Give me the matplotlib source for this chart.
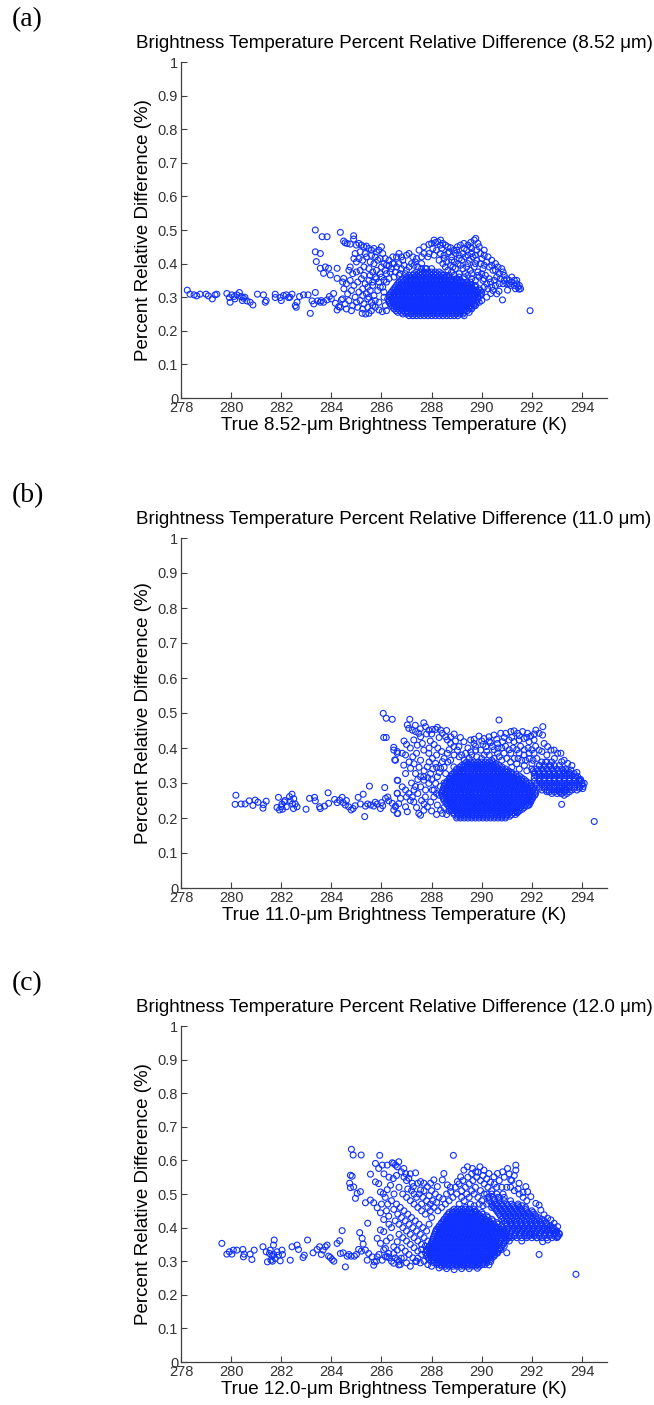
import matplotlib
matplotlib.use('Agg')
from matplotlib import pyplot as plt

# ---------------- panel (a): 8.52 um ----------------
tail_a = [(278.25,.321),(278.36,.309),(278.52,.307),(278.63,.304),(278.76,.309),(279.0,.309),(279.09,.304),
          (279.25,.295),(279.36,.307),(279.43,.309),(279.83,.311),(279.93,.299),(280.03,.307),(279.96,.285),
          (280.12,.302),(280.23,.307),(280.33,.314),(280.4,.302),(280.49,.297),(280.63,.289),(280.76,.285),
          (280.87,.277),(281.05,.309),(281.29,.307),(281.36,.285),(281.76,.309),(281.76,.299),(281.96,.299),
          (282.09,.305),(282.2,.307),(282.29,.299),(282.43,.309),(282.56,.275),(282.63,.285),(282.73,.302),
          (282.89,.307),(283.07,.307),(283.16,.252),(283.23,.289),(283.36,.314),(283.45,.289),(283.56,.285),
          (283.69,.285),(283.83,.292),(283.92,.302),(284.09,.311),(284.16,.282),(284.23,.262),(284.29,.272),
          (284.4,.292),(280.15,.295),(280.55,.30),(282.0,.29),(282.6,.27),(283.3,.28),(283.6,.29),(284.0,.295),
          (280.45,.29),(281.4,.29),(282.35,.30)]

upper_a = [(283.36,.50),(283.63,.48),(283.83,.48),(284.36,.493),(284.49,.467),(284.63,.46),(284.89,.483),
           (284.89,.473),(283.36,.435),(283.56,.43),(283.4,.406),(283.56,.386),(283.76,.39),(283.89,.386),
           (283.69,.371),(283.96,.366),(284.23,.386),(284.23,.356),(284.49,.356),
           (284.55,.462),(284.75,.458),(285.0,.455),(285.1,.46),(285.2,.455),(285.3,.45),(285.4,.452),(285.5,.445),
           (285.6,.44),(285.7,.445),(285.8,.435),(285.9,.44),(286.0,.45),(286.05,.43),(286.15,.415),(286.3,.41),
           (286.45,.40),(286.6,.42),(286.7,.43),(286.85,.41),(287.0,.425),(287.1,.43),(287.25,.42),(287.35,.405),
           (284.9,.415),(285.0,.405),(285.1,.415),(285.25,.41),(285.4,.42),(285.55,.405),(285.7,.40),(285.85,.41),
           (284.75,.39),(284.7,.38),(284.85,.37),(285.0,.375),(285.15,.38),(285.3,.39),(285.5,.385),(285.65,.375),
           (285.8,.38),(286.0,.39),(286.2,.395),(286.4,.385),(286.6,.39),(286.8,.385),(287.0,.38),
           (284.45,.345),(284.6,.34),(284.75,.35),(284.9,.335),(285.05,.345),(285.2,.355),(285.35,.34),(285.5,.35),
           (285.65,.345),(285.8,.355),(286.0,.36),(286.2,.37),(284.5,.325),(284.65,.31),(284.8,.32),(284.95,.30),
           (285.1,.315),(285.25,.325),(285.4,.31),(285.55,.32),(285.7,.305),(285.85,.32),(286.05,.33),(286.2,.345),
           (284.45,.295),(284.55,.28),(284.7,.29),(284.85,.275),(285.0,.285),(285.15,.29),(285.3,.28),(285.45,.295),
           (285.6,.285),(285.75,.27),(285.9,.285),(286.1,.30),(286.15,.275),(285.23,.252),(285.37,.25),(285.5,.252),
           (285.6,.26),(286.03,.257),(285.9,.262),(286.2,.26),(284.35,.27),(284.6,.265),(284.8,.26),
           (285.9,.345),(286.1,.35),(286.3,.355),(286.5,.36),(286.7,.365),(285.95,.37),(286.15,.38),(286.35,.375),
           (286.55,.375),(286.75,.37),(286.95,.37),(286.3,.395),(286.5,.40),(286.7,.40),(286.9,.395),(287.1,.39),
           (286.45,.42),(286.8,.42),(287.2,.40),(285.75,.42),(285.95,.415),(286.1,.40),(285.35,.43),(285.6,.425),
           (285.15,.435),(284.95,.43),(285.3,.365),(285.55,.365),(285.75,.36),(285.45,.33),(285.65,.335),(285.95,.33),
           (286.1,.315),(285.25,.305),(285.5,.30),(285.75,.29),(285.05,.27),(285.25,.265),(285.45,.27),(285.65,.275)]

right_a = [(287.5,.44),(287.69,.45),(287.89,.457),(288.0,.46),(288.16,.463),(288.25,.465),(288.36,.47),(288.45,.46),
           (288.55,.455),(288.65,.45),(288.76,.447),(288.9,.44),(289.03,.45),(289.15,.455),(289.29,.46),(289.45,.455),
           (289.56,.463),(289.7,.47),(289.76,.475),(287.7,.43),(287.85,.42),(288.05,.445),(288.2,.44),(288.35,.43),
           (288.5,.425),(288.65,.43),(288.8,.42),(288.95,.43),(289.1,.425),(289.25,.43),(289.4,.44),(289.6,.445),
           (289.8,.44),(289.95,.43),(290.1,.425),(290.25,.42),(290.4,.41),(290.55,.40),(290.65,.39),(290.8,.385),
           (290.85,.375),(287.3,.395),(287.45,.39),(287.6,.40),(287.75,.385),(288.3,.41),(288.45,.40),(288.6,.405),
           (288.75,.395),(288.9,.405),(289.05,.40),(289.2,.41),(289.35,.42),(289.5,.41),(289.65,.42),(289.8,.41),
           (289.95,.40),(290.1,.395),(290.3,.39),(290.45,.38),(288.65,.38),(288.8,.375),(288.95,.385),(289.1,.37),
           (289.25,.385),(289.4,.39),(289.55,.38),(289.7,.39),(289.85,.375),(290.0,.37),(290.15,.365),(290.3,.355),
           (289.0,.355),(289.15,.35),(289.3,.36),(289.45,.365),(289.6,.355),(289.75,.35),(289.9,.36),(290.05,.35),
           (290.2,.34),(290.35,.345),(290.5,.35),(290.6,.36),(290.75,.355),(290.9,.35),(291.0,.355),(291.1,.35),
           (291.2,.345),(291.3,.35),(291.4,.34),(291.5,.335),(291.55,.325),(291.45,.33),(291.3,.335),(291.15,.335),
           (291.0,.34),(290.85,.34),(290.7,.34),(290.55,.335),(290.4,.33),(290.25,.325),(290.1,.33),(290.36,.311),
           (290.69,.318),(291.03,.321),(291.49,.324),(290.83,.292),(291.93,.26),(289.6,.265),(289.75,.275),
           (289.5,.255),(289.3,.245),(289.9,.285),
           (288.7,.365),(288.9,.365),(289.1,.36),(289.35,.37),(289.6,.37),(289.85,.365),(290.1,.355),(288.55,.39),
           (288.85,.39),(289.15,.395),(289.45,.40),(289.75,.40),(290.05,.385),(290.2,.405),(287.4,.415),(287.6,.42),
           (287.9,.43),(288.1,.425),(288.4,.445),(288.7,.435),(289.0,.44),(289.3,.445),(289.6,.43),(289.9,.45),
           (290.1,.44),(288.5,.415),(288.8,.41),(289.1,.415),(289.45,.425),(289.75,.425),(290.0,.415),(288.1,.47),
           (288.35,.455),(289.55,.45),(289.85,.46),(290.4,.395),(290.55,.38),(290.7,.37),(291.2,.36),(291.4,.35),
           (290.9,.365),(291.1,.34),(291.35,.325),(290.45,.32),(290.6,.31),(290.2,.30),(290.0,.29)]

core_a = [
    (0.245, [287.1, 287.25, 287.4, 287.55, 287.7, 287.85, 288.0, 288.15, 288.3, 288.45, 288.6, 288.75, 288.9, 289.05]),
    (0.250, [286.85, 287.0, 287.18, 287.33, 287.48, 287.63, 287.78, 287.93, 288.08, 288.23, 288.38, 288.53, 288.68,
             288.83, 288.98, 289.13, 289.25]),
    (0.255, [286.65, 286.8, 286.95, 287.05, 287.2, 287.35, 287.5, 287.65, 287.8, 287.95, 288.1, 288.25, 288.4,
             288.55, 288.7, 288.85, 289.0, 289.15, 289.3]),
    (0.260, [286.58, 286.73, 286.88, 287.03, 287.18, 287.33, 287.48, 287.63, 287.78, 287.93, 288.08, 288.23, 288.38,
             288.53, 288.68, 288.83, 288.98, 289.13, 289.28, 289.43]),
    (0.265, [286.5, 286.65, 286.8, 286.95, 287.1, 287.25, 287.4, 287.55, 287.7, 287.85, 288.0, 288.15, 288.3,
             288.45, 288.6, 288.75, 288.9, 289.05, 289.2, 289.35, 289.5]),
    (0.270, [286.45, 286.6, 286.78, 286.93, 287.08, 287.23, 287.38, 287.53, 287.68, 287.83, 287.98, 288.13, 288.28,
             288.43, 288.58, 288.73, 288.88, 289.03, 289.18, 289.33, 289.48, 289.62]),
    (0.275, [286.4, 286.55, 286.7, 286.85, 287.0, 287.15, 287.3, 287.45, 287.6, 287.75, 287.9, 288.05, 288.2,
             288.35, 288.5, 288.65, 288.8, 288.95, 289.1, 289.25, 289.4, 289.55, 289.7]),
    (0.280, [286.35, 286.5, 286.68, 286.83, 286.98, 287.13, 287.28, 287.43, 287.58, 287.73, 287.88, 288.03, 288.18,
             288.33, 288.48, 288.63, 288.78, 288.93, 289.08, 289.23, 289.38, 289.53, 289.7]),
    (0.285, [286.3, 286.45, 286.6, 286.75, 286.9, 287.05, 287.2, 287.35, 287.5, 287.65, 287.8, 287.95, 288.1,
             288.25, 288.4, 288.55, 288.7, 288.85, 289.0, 289.15, 289.3, 289.45, 289.6, 289.8]),
    (0.290, [286.3, 286.48, 286.63, 286.78, 286.93, 287.08, 287.23, 287.38, 287.53, 287.68, 287.83, 287.98, 288.13,
             288.28, 288.43, 288.58, 288.73, 288.88, 289.03, 289.18, 289.33, 289.48, 289.63, 289.78]),
    (0.295, [286.25, 286.4, 286.55, 286.7, 286.85, 287.0, 287.15, 287.3, 287.45, 287.6, 287.75, 287.9, 288.05,
             288.2, 288.35, 288.5, 288.65, 288.8, 288.95, 289.1, 289.25, 289.4, 289.55, 289.7, 289.85]),
    (0.300, [286.33, 286.48, 286.68, 286.83, 286.98, 287.13, 287.28, 287.43, 287.58, 287.73, 287.88, 288.03, 288.18,
             288.33, 288.48, 288.63, 288.78, 288.93, 289.08, 289.23, 289.38, 289.53, 289.68, 289.85]),
    (0.305, [286.3, 286.45, 286.6, 286.75, 286.9, 287.05, 287.2, 287.35, 287.5, 287.65, 287.8, 287.95, 288.1,
             288.25, 288.4, 288.55, 288.7, 288.85, 289.0, 289.15, 289.3, 289.45, 289.6, 289.75, 289.95]),
    (0.310, [286.35, 286.5, 286.68, 286.83, 286.98, 287.13, 287.28, 287.43, 287.58, 287.73, 287.88, 288.03, 288.18,
             288.33, 288.48, 288.63, 288.78, 288.93, 289.08, 289.23, 289.38, 289.53, 289.68, 289.83, 289.98]),
    (0.315, [286.4, 286.55, 286.7, 286.85, 287.0, 287.15, 287.3, 287.45, 287.6, 287.75, 287.9, 288.05, 288.2,
             288.35, 288.5, 288.65, 288.8, 288.95, 289.1, 289.25, 289.4, 289.55, 289.7, 289.85, 290.0]),
    (0.320, [286.45, 286.6, 286.78, 286.93, 287.08, 287.23, 287.38, 287.53, 287.68, 287.83, 287.98, 288.13, 288.28,
             288.43, 288.58, 288.73, 288.88, 289.03, 289.18, 289.33, 289.48, 289.63, 289.78, 289.95]),
    (0.325, [286.5, 286.65, 286.8, 286.95, 287.1, 287.25, 287.4, 287.55, 287.7, 287.85, 288.0, 288.15, 288.3,
             288.45, 288.6, 288.75, 288.9, 289.05, 289.2, 289.35, 289.5, 289.65, 289.9]),
    (0.330, [286.55, 286.7, 286.88, 287.03, 287.18, 287.33, 287.48, 287.63, 287.78, 287.93, 288.08, 288.23, 288.38,
             288.53, 288.68, 288.83, 288.98, 289.13, 289.28, 289.43, 289.58, 289.75]),
    (0.335, [286.6, 286.75, 286.9, 287.05, 287.2, 287.35, 287.5, 287.65, 287.8, 287.95, 288.1, 288.25, 288.4,
             288.55, 288.7, 288.85, 289.0, 289.15, 289.3, 289.45, 289.6, 289.75]),
    (0.340, [286.65, 286.8, 286.98, 287.13, 287.28, 287.43, 287.58, 287.73, 287.88, 288.03, 288.18, 288.33, 288.48,
             288.63, 288.78, 288.93, 289.08, 289.23, 289.38, 289.5]),
    (0.345, [286.7, 286.85, 287.0, 287.15, 287.3, 287.45, 287.6, 287.75, 287.9, 288.05, 288.2, 288.35, 288.5,
             288.65, 288.8, 288.95, 289.1, 289.25, 289.4, 289.55]),
    (0.350, [286.78, 286.93, 287.08, 287.23, 287.38, 287.53, 287.68, 287.83, 287.98, 288.13, 288.28, 288.43, 288.58,
             288.73, 288.88, 289.05]),
    (0.355, [286.85, 287.0, 287.15, 287.3, 287.45, 287.6, 287.75, 287.9, 288.05, 288.2, 288.35, 288.5, 288.65,
             288.8, 289.0]),
    (0.360, [287.0, 287.18, 287.33, 287.48, 287.63, 287.78, 287.93, 288.08, 288.23, 288.38, 288.53, 288.7]),
    (0.365, [287.1, 287.25, 287.4, 287.55, 287.7, 287.85, 288.0, 288.15, 288.3, 288.45, 288.6]),
    (0.370, [287.3, 287.48, 287.63, 287.78, 287.93, 288.08, 288.23, 288.4]),
    (0.375, [287.4, 287.55, 287.7, 287.85, 288.0, 288.15, 288.3]),
    (0.385, [287.6, 287.8, 288.0]),
]

# ---------------- panel (b): 11.0 um ----------------
tail_b = [(280.19,.265),(280.16,.239),(280.4,.24),(280.56,.24),(280.72,.249),(280.87,.236),(280.96,.251),
          (281.07,.245),(281.27,.228),(281.29,.238),(281.4,.248),(281.89,.259),(281.83,.23),(281.93,.223),
          (282.03,.24),(282.0,.232),(282.12,.246),(282.2,.232),(282.33,.261),(282.43,.268),(282.36,.249),
          (282.56,.24),(282.63,.232),(282.49,.227),(282.99,.225),(283.13,.256),(283.33,.259),(283.36,.249),
          (283.53,.232),(283.56,.227),(283.73,.234),(283.87,.272),(283.89,.242),(284.13,.253),(284.23,.244),
          (284.33,.251),(284.43,.259),(284.47,.244),(284.56,.237),(284.69,.232),(284.79,.223),(284.87,.227),
          (285.07,.259),(285.27,.268),(285.33,.204),(285.16,.240),(285.36,.234),(285.52,.291),(285.56,.237),
          (285.69,.234),(285.83,.240),(285.96,.227),(286.0,.244),(286.13,.287),(286.16,.256),(286.29,.249),
          (286.43,.242),(286.56,.234),(286.65,.213),(286.49,.223),(286.65,.307),(286.63,.271),(282.05,.225),
          (282.15,.25),(282.45,.24),(282.5,.255),(284.6,.25),(284.95,.235),(285.45,.24),(285.75,.245),
          (286.05,.235),(286.25,.26)]

upper_b = [(286.07,.499),(286.19,.485),(286.43,.482),(286.09,.43),(286.19,.43),(286.49,.402),(286.63,.39),
           (286.53,.366),(286.49,.394),(286.63,.385),(286.83,.385),(286.96,.38),(286.56,.365),(286.89,.351),
           (287.16,.342),(287.36,.327),(287.56,.318),(287.69,.308),(286.96,.327),(286.63,.308),(286.83,.289),
           (286.96,.28),(287.09,.27),(287.23,.26),(287.29,.246),(286.63,.27),(286.76,.256),(286.69,.241),
           (286.56,.232),(286.63,.213),(286.96,.232),(287.03,.218),(287.49,.213),(287.56,.208),(287.69,.222),
           (287.96,.246),(287.83,.232),(288.23,.237),(288.36,.222),(288.43,.213),(288.09,.26),(288.03,.28),
           (287.03,.466),(287.09,.456),(287.23,.451),(287.36,.447),(287.13,.482),(287.49,.442),(287.56,.432),
           (287.29,.423),(287.43,.408),(287.63,.413),(287.69,.472),(287.76,.461),(287.89,.451),(288.03,.453),
           (288.16,.453),(288.23,.459),(288.36,.451),(288.43,.442),(288.56,.432),(288.63,.423),(288.76,.413),
           (288.89,.404),(289.03,.394),(287.69,.394),(287.89,.385),(288.03,.37),(288.16,.356),(288.36,.342),
           (288.56,.327),(288.76,.313),(287.56,.365),(287.83,.346),(287.96,.327),(287.69,.318),(287.56,.289),
           (287.76,.28),(287.89,.299),(288.16,.299),(288.23,.318),(288.43,.361),(288.63,.385),(288.76,.365),
           (288.89,.346),(288.76,.432),(289.09,.404),(287.2,.30),(287.35,.29),(287.45,.27),(287.6,.25),(287.75,.26),
           (287.1,.36),(287.25,.375),(287.4,.385),(287.15,.40),(287.0,.41),(286.9,.42),(287.95,.42),(288.1,.41),
           (288.25,.40),(288.4,.39),(288.1,.28),(288.3,.265),(288.2,.345),
           (287.3,.355),(287.5,.345),(287.7,.335),(287.9,.36),(288.05,.34),(288.3,.33),(288.5,.345),(288.65,.36),
           (288.5,.30),(288.35,.29),(288.2,.27),(288.0,.31),(287.85,.315),(287.45,.31),(287.3,.28),(287.15,.25),
           (287.0,.26),(287.4,.23),(287.7,.24),(288.0,.22),(288.2,.21),(288.6,.21),(288.7,.22),(288.5,.23),
           (287.9,.40),(288.2,.38),(288.5,.37),(288.7,.395),(288.9,.38),(289.1,.375),(288.95,.42),(289.15,.43),
           (288.9,.44),(288.6,.45),(288.3,.43),(288.0,.44),(287.8,.44),(287.35,.465),(287.55,.455)]

right_b = [(289.29,.418),(289.56,.423),(289.69,.413),(289.89,.434),(290.09,.427),(290.29,.432),(290.49,.437),
           (290.69,.48),(290.76,.442),(290.96,.442),(291.16,.447),(291.29,.449),(291.43,.442),(291.63,.447),
           (291.83,.442),(291.96,.434),(292.16,.451),(292.29,.442),(292.44,.461),(292.43,.437),(292.09,.423),
           (291.89,.418),(291.69,.427),(291.49,.423),(291.29,.418),(291.09,.423),(290.83,.418),(290.63,.413),
           (290.43,.404),(290.16,.404),(289.96,.394),(289.76,.394),(289.56,.389),(289.36,.385),(292.49,.413),
           (292.63,.404),(292.76,.394),(292.89,.394),(293.03,.385),(293.16,.385),(293.29,.365),(293.43,.356),
           (293.19,.361),(292.29,.394),(292.09,.385),(291.89,.385),(291.69,.38),(291.49,.385),(291.16,.385),
           (290.89,.385),(290.63,.385),(289.2,.38),(289.5,.37),(289.8,.375),(290.0,.37),(290.3,.38),(290.5,.37),
           (290.8,.365),(291.0,.37),(291.3,.37),(291.6,.365),(291.9,.37),(292.2,.37),(291.4,.355),(291.7,.35),
           (292.0,.355),(291.2,.345),(291.5,.34),(291.8,.335),(292.0,.34),(294.09,.299),(294.03,.284),
           (293.89,.308),(293.83,.318),(293.69,.327),(293.56,.337),(293.36,.28),(293.49,.289),(293.29,.299),
           (293.16,.27),(293.19,.239),(293.29,.265),(293.03,.28),(292.89,.289),(291.89,.237),(291.96,.246),
           (291.43,.218),(291.03,.208),(294.49,.19),(293.6,.35),(293.8,.33),(293.95,.31),
           (289.45,.40),(289.75,.405),(290.05,.41),(290.35,.415),(290.65,.40),(290.95,.405),(291.25,.40),
           (291.55,.405),(291.85,.40),(292.15,.405),(292.4,.39),(292.6,.38),(292.9,.37),(290.2,.39),(290.5,.395),
           (290.8,.40),(291.1,.395),(291.4,.395),(291.7,.395),(292.0,.395),(289.3,.365),(289.6,.38),(290.1,.38),
           (290.4,.365),(290.7,.375),(291.15,.36),(291.45,.37),(291.75,.365),(292.05,.365),(292.3,.35),(292.55,.36),
           (292.75,.35),(290.9,.43),(291.2,.43),(291.5,.435),(291.8,.43),(292.1,.44),(290.6,.425),(290.3,.42),
           (290.0,.42),(289.7,.425)]

core_b = [
    (0.200, [289.0, 289.15, 289.3, 289.45, 289.6, 289.75, 289.9, 290.05, 290.2, 290.35, 290.5, 290.65, 290.8, 290.95]),
    (0.205, [289.02, 289.17, 289.32, 289.47, 289.62, 289.77, 289.92, 290.07, 290.22, 290.37, 290.52, 290.67, 290.82,
             290.97, 291.12]),
    (0.210, [288.9, 289.05, 289.2, 289.35, 289.5, 289.65, 289.8, 289.95, 290.1, 290.25, 290.4, 290.55, 290.7,
             290.85, 291.0, 291.2, 291.35]),
    (0.215, [288.87, 289.02, 289.17, 289.32, 289.47, 289.62, 289.77, 289.92, 290.07, 290.22, 290.37, 290.52, 290.67,
             290.82, 290.97, 291.12, 291.27, 291.42]),
    (0.220, [288.8, 288.95, 289.1, 289.25, 289.4, 289.55, 289.7, 289.85, 290.0, 290.15, 290.3, 290.45, 290.6,
             290.75, 290.9, 291.05, 291.2, 291.35, 291.5]),
    (0.225, [288.77, 288.92, 289.07, 289.22, 289.37, 289.52, 289.67, 289.82, 289.97, 290.12, 290.27, 290.42, 290.57,
             290.72, 290.87, 291.02, 291.17, 291.32, 291.47, 291.62]),
    (0.230, [288.7, 288.85, 289.0, 289.15, 289.3, 289.45, 289.6, 289.75, 289.9, 290.05, 290.2, 290.35, 290.5,
             290.65, 290.8, 290.95, 291.1, 291.25, 291.4, 291.55, 291.7]),
    (0.235, [288.67, 288.82, 288.97, 289.12, 289.27, 289.42, 289.57, 289.72, 289.87, 290.02, 290.17, 290.32, 290.47,
             290.62, 290.77, 290.92, 291.07, 291.22, 291.37, 291.52, 291.67, 291.82]),
    (0.240, [288.6, 288.75, 288.9, 289.05, 289.2, 289.35, 289.5, 289.65, 289.8, 289.95, 290.1, 290.25, 290.4,
             290.55, 290.7, 290.85, 291.0, 291.15, 291.3, 291.45, 291.6, 291.75, 291.9]),
    (0.245, [288.57, 288.72, 288.87, 289.02, 289.17, 289.32, 289.47, 289.62, 289.77, 289.92, 290.07, 290.22, 290.37,
             290.52, 290.67, 290.82, 290.97, 291.12, 291.27, 291.42, 291.57, 291.72, 291.87]),
    (0.250, [288.5, 288.65, 288.8, 288.95, 289.1, 289.25, 289.4, 289.55, 289.7, 289.85, 290.0, 290.15, 290.3,
             290.45, 290.6, 290.75, 290.9, 291.05, 291.2, 291.35, 291.5, 291.65, 291.8, 291.95]),
    (0.255, [288.47, 288.62, 288.77, 288.92, 289.07, 289.22, 289.37, 289.52, 289.67, 289.82, 289.97, 290.12, 290.27,
             290.42, 290.57, 290.72, 290.87, 291.02, 291.17, 291.32, 291.47, 291.62, 291.77, 291.92, 292.02]),
    (0.260, [288.45, 288.6, 288.75, 288.9, 289.05, 289.2, 289.35, 289.5, 289.65, 289.8, 289.95, 290.1, 290.25,
             290.4, 290.55, 290.7, 290.85, 291.0, 291.15, 291.3, 291.45, 291.6, 291.75, 291.9, 292.05]),
    (0.265, [288.42, 288.57, 288.72, 288.87, 289.02, 289.17, 289.32, 289.47, 289.62, 289.77, 289.92, 290.07, 290.22,
             290.37, 290.52, 290.67, 290.82, 290.97, 291.12, 291.27, 291.42, 291.57, 291.72, 291.87, 292.02, 292.12]),
    (0.270, [288.4, 288.55, 288.7, 288.85, 289.0, 289.15, 289.3, 289.45, 289.6, 289.75, 289.9, 290.05, 290.2,
             290.35, 290.5, 290.65, 290.8, 290.95, 291.1, 291.25, 291.4, 291.55, 291.7, 291.85, 292.0, 292.15]),
    (0.275, [288.42, 288.57, 288.72, 288.87, 289.02, 289.17, 289.32, 289.47, 289.62, 289.77, 289.92, 290.07, 290.22,
             290.37, 290.52, 290.67, 290.82, 290.97, 291.12, 291.27, 291.42, 291.57, 291.72, 291.87, 292.02, 292.12]),
    (0.280, [288.45, 288.6, 288.75, 288.9, 289.05, 289.2, 289.35, 289.5, 289.65, 289.8, 289.95, 290.1, 290.25,
             290.4, 290.55, 290.7, 290.85, 291.0, 291.15, 291.3, 291.45, 291.6, 291.75, 291.9, 292.05]),
    (0.285, [288.47, 288.62, 288.77, 288.92, 289.07, 289.22, 289.37, 289.52, 289.67, 289.82, 289.97, 290.12, 290.27,
             290.42, 290.57, 290.72, 290.87, 291.02, 291.17, 291.32, 291.47, 291.62, 291.77, 291.92, 292.02]),
    (0.290, [288.5, 288.65, 288.8, 288.95, 289.1, 289.25, 289.4, 289.55, 289.7, 289.85, 290.0, 290.15, 290.3,
             290.45, 290.6, 290.75, 290.9, 291.05, 291.2, 291.35, 291.5, 291.65, 291.8, 291.95]),
    (0.295, [288.52, 288.67, 288.82, 288.97, 289.12, 289.27, 289.42, 289.57, 289.72, 289.87, 290.02, 290.17, 290.32,
             290.47, 290.62, 290.77, 290.92, 291.07, 291.22, 291.37, 291.52, 291.67, 291.82, 291.97]),
    (0.300, [288.6, 288.75, 288.9, 289.05, 289.2, 289.35, 289.5, 289.65, 289.8, 289.95, 290.1, 290.25, 290.4,
             290.55, 290.7, 290.85, 291.0, 291.15, 291.3, 291.45, 291.6, 291.75, 291.9]),
    (0.305, [288.62, 288.77, 288.92, 289.07, 289.22, 289.37, 289.52, 289.67, 289.82, 289.97, 290.12, 290.27, 290.42,
             290.57, 290.72, 290.87, 291.02, 291.17, 291.32, 291.47, 291.62, 291.77]),
    (0.310, [288.7, 288.85, 289.0, 289.15, 289.3, 289.45, 289.6, 289.75, 289.9, 290.05, 290.2, 290.35, 290.5,
             290.65, 290.8, 290.95, 291.1, 291.25, 291.4, 291.55, 291.7]),
    (0.315, [288.72, 288.87, 289.02, 289.17, 289.32, 289.47, 289.62, 289.77, 289.92, 290.07, 290.22, 290.37, 290.52,
             290.67, 290.82, 290.97, 291.12, 291.27, 291.42, 291.6]),
    (0.320, [288.8, 288.95, 289.1, 289.25, 289.4, 289.55, 289.7, 289.85, 290.0, 290.15, 290.3, 290.45, 290.6,
             290.75, 290.9, 291.05, 291.2, 291.35, 291.5]),
    (0.325, [288.82, 288.97, 289.12, 289.27, 289.42, 289.57, 289.72, 289.87, 290.02, 290.17, 290.32, 290.47, 290.62,
             290.77, 290.92, 291.07, 291.22, 291.37]),
    (0.330, [288.9, 289.05, 289.2, 289.35, 289.5, 289.65, 289.8, 289.95, 290.1, 290.25, 290.4, 290.55, 290.7,
             290.85, 291.0, 291.2]),
    (0.335, [288.97, 289.12, 289.27, 289.42, 289.57, 289.72, 289.87, 290.02, 290.17, 290.32, 290.47, 290.62, 290.77,
             290.92, 291.07]),
    (0.340, [289.0, 289.15, 289.3, 289.45, 289.6, 289.75, 289.9, 290.05, 290.2, 290.35, 290.5, 290.65, 290.8, 290.95]),
    (0.345, [289.12, 289.27, 289.42, 289.57, 289.72, 289.87, 290.02, 290.17, 290.32, 290.47, 290.62, 290.82]),
    (0.350, [289.2, 289.35, 289.5, 289.65, 289.8, 289.95, 290.1, 290.25, 290.4, 290.55, 290.7]),
    (0.355, [289.32, 289.47, 289.62, 289.77, 289.92, 290.07, 290.22, 290.37, 290.57]),
    (0.360, [289.4, 289.55, 289.7, 289.85, 290.0, 290.15, 290.3, 290.45]),
    (0.270, [292.8, 293.0, 293.2, 293.4]),
    (0.275, [292.6, 292.7, 292.9, 293.1, 293.3, 293.5]),
    (0.280, [292.4, 292.6, 292.8, 293.0, 293.2, 293.4, 293.6, 293.8]),
    (0.285, [292.3, 292.5, 292.7, 292.9, 293.1, 293.3, 293.5, 293.7, 293.9]),
    (0.290, [292.3, 292.5, 292.7, 292.9, 293.1, 293.3, 293.5, 293.7, 293.9, 294.05]),
    (0.295, [292.2, 292.4, 292.6, 292.8, 293.0, 293.2, 293.4, 293.6, 293.8, 294.0]),
    (0.300, [292.2, 292.4, 292.6, 292.8, 293.0, 293.2, 293.4, 293.6, 293.8, 294.0]),
    (0.305, [292.1, 292.3, 292.5, 292.7, 292.9, 293.1, 293.3, 293.5, 293.7, 293.9]),
    (0.310, [292.3, 292.5, 292.7, 292.9, 293.1, 293.3, 293.5, 293.7, 293.9]),
    (0.315, [292.1, 292.3, 292.5, 292.7, 292.9, 293.1, 293.3, 293.5, 293.7]),
    (0.320, [292.2, 292.4, 292.6, 292.8, 293.0, 293.2, 293.4, 293.6, 293.75]),
    (0.325, [292.1, 292.3, 292.5, 292.7, 292.9, 293.1, 293.3, 293.5]),
    (0.330, [292.1, 292.3, 292.5, 292.7, 292.9, 293.1, 293.3, 293.5]),
    (0.335, [292.05, 292.25, 292.45, 292.65, 292.85, 293.05, 293.25, 293.4]),
    (0.340, [292.2, 292.4, 292.6, 292.8, 293.0, 293.2, 293.35]),
    (0.350, [292.3, 292.5, 292.7, 292.9, 293.1]),
    (0.360, [292.4, 292.6, 292.8]),
]

# ---------------- panel (c): 12.0 um ----------------
tail_c = [(279.63,.353),(279.83,.321),(279.93,.328),(280.03,.321),(280.09,.333),(280.23,.333),(280.47,.335),
          (280.52,.321),(280.49,.313),(280.76,.321),(280.83,.305),(280.92,.333),(281.27,.343),(281.4,.328),
          (281.45,.298),(281.53,.323),(281.63,.315),(281.56,.333),(281.72,.363),(281.69,.348),(281.76,.308),
          (281.83,.328),(281.89,.318),(281.96,.301),(282.03,.333),(281.59,.303),(282.36,.303),(282.43,.343),
          (282.63,.348),(282.69,.335),(282.87,.311),(282.92,.318),(283.05,.363),(283.27,.325),(283.43,.335),
          (283.53,.343),(283.67,.333),(283.76,.343),(283.83,.348),(283.89,.315),(283.96,.311),(284.03,.305),
          (284.23,.353),(284.33,.361),(284.43,.391),(284.36,.323),(284.47,.325),(284.56,.283),(284.63,.315),
          (284.79,.315),(284.92,.315),(285.09,.335),(285.13,.385),(285.23,.368),(285.27,.351),(285.36,.333),
          (285.43,.303),(285.49,.323),(285.63,.313),(285.69,.288),(285.72,.298),(285.45,.413),(281.7,.32),
          (281.65,.30),(282.05,.32),(283.6,.32),(284.1,.30),(284.7,.32),(285.0,.32),(285.2,.33),(285.8,.30),
          (285.9,.32)]

upper_c = [(284.8,.633),(284.87,.616),(285.19,.616),(285.93,.615),(285.56,.559),(284.76,.556),(284.83,.553),
           (284.73,.532),(284.76,.519),(284.89,.521),(285.03,.502),(285.16,.507),(284.96,.487),(285.76,.591),
           (285.89,.576),(286.03,.586),(286.23,.586),(286.43,.593),(286.56,.586),(285.76,.536),(285.89,.531),
           (285.96,.506),(286.07,.501),(286.23,.513),(286.36,.526),(286.47,.546),(285.56,.482),(285.36,.474),
           (285.69,.474),(285.83,.459),(285.96,.444),(286.09,.424),(286.29,.434),(286.49,.454),(285.96,.393),
           (286.09,.388),(285.83,.368),(285.96,.353),(286.16,.338),(286.29,.323),(286.16,.313),(286.03,.303),
           (285.83,.313),(286.49,.343),(286.63,.358),(286.63,.333),(286.49,.323),(286.49,.591),(286.63,.581),
           (286.69,.596),(286.89,.576),(286.79,.566),(286.96,.561),(287.09,.547),(287.23,.532),(287.36,.563),
           (287.27,.522),(287.45,.532),(287.56,.537),(287.69,.532),(287.56,.512),(287.83,.522),(287.96,.532),
           (288.09,.542),(288.23,.522),(288.49,.561),(288.43,.542),(288.63,.527),(288.76,.507),(288.87,.615),
           (289.03,.537),(289.16,.551),(289.29,.571),(289.43,.581),(289.63,.576),(289.76,.566),(289.93,.581),
           (290.09,.571),(290.29,.561),(290.49,.551),(290.63,.561),(290.83,.566),(291.03,.576),(291.36,.586),
           (291.36,.571),(291.16,.542),(291.49,.532),(291.76,.522),(291.83,.507),(291.96,.492),(292.16,.472),
           (292.29,.467),(292.36,.452),(292.49,.438),(292.63,.428),(292.76,.423),(292.89,.413),(293.03,.403),
           (293.09,.383),(293.03,.373),(292.89,.383),(292.76,.393),(292.63,.393),(292.43,.358),(292.63,.363),
           (292.29,.32),(293.76,.261)]

mid_c = [(286.7,.52),(286.85,.50),(287.0,.49),(287.15,.48),(287.3,.47),(287.45,.46),(287.6,.45),(287.75,.44),
         (286.6,.47),(286.75,.46),(286.9,.45),(287.05,.44),(287.2,.43),(287.35,.42),(287.5,.41),(287.65,.40),
         (287.8,.39),(286.55,.42),(286.7,.41),(286.85,.40),(287.0,.39),(287.15,.38),(287.3,.37),(287.45,.36),
         (287.6,.35),(286.7,.38),(286.85,.37),(287.0,.36),(287.15,.35),(287.3,.34),(287.45,.33),(287.6,.32),
         (286.8,.34),(286.95,.33),(287.1,.32),(287.25,.31),(287.4,.30),(287.55,.295),(286.7,.30),(286.75,.29),
         (286.9,.31),(287.0,.295),(287.15,.285),(287.7,.30),(287.85,.29),(288.0,.285),(286.3,.31),(286.4,.30),
         (286.55,.31),(286.2,.36),(286.35,.37),(286.4,.40),(286.3,.41),(286.25,.47),(286.4,.48),(286.15,.49),
         (287.5,.50),(287.65,.49),(287.8,.48),(287.95,.47),(288.1,.46),(288.25,.45),(288.4,.46),(288.55,.47),
         (288.7,.48),(288.85,.49),(289.0,.50),(289.2,.51),(289.35,.52),(289.5,.53),(289.65,.54),(289.8,.55),
         (289.95,.54),(290.1,.53),(290.25,.52),(290.4,.51),(288.3,.49),(288.15,.50),(288.0,.51),(289.1,.47),
         (289.3,.48),(289.5,.49),(289.7,.50),(289.85,.49),(290.0,.48),(290.2,.47),(290.4,.46),(290.55,.47),
         (290.7,.49),(290.85,.50),(291.0,.52),(291.15,.52),(291.3,.51),(291.5,.50),(291.65,.49),(291.8,.48),
         (290.5,.53),(290.7,.54),(290.9,.55),(291.1,.56),(291.3,.555),(290.29,.289),(290.36,.299),(289.83,.279),
         (289.89,.294),(290.09,.314),(290.63,.324),(290.76,.334),(290.49,.353),(290.9,.345),(291.1,.36),
         (291.3,.375),(291.6,.36),(291.8,.375),(292.0,.38),(292.2,.37),(291.0,.325),(288.6,.278),(288.9,.275),
         (289.2,.278),(289.5,.278),(288.3,.28),(286.49,.294),(286.69,.289),(286.63,.304),(286.79,.309),
         (286.23,.314),(286.09,.334),(287.36,.299),(287.45,.309),
         (287.0,.54),(287.2,.51),(287.4,.49),(287.6,.47),(287.85,.46),(287.05,.515),(287.3,.50),(287.7,.51),
         (287.9,.495),(288.05,.48),(288.2,.475),(286.9,.55),(287.15,.56),(286.6,.555),(286.3,.55),(286.1,.56),
         (286.0,.47),(286.2,.45),(286.5,.50),(286.65,.44),(286.8,.43),(286.95,.42),(287.1,.41),(287.25,.40),
         (287.4,.39),(287.55,.38),(287.7,.37),(287.85,.36),(287.75,.345),(287.6,.335),(287.9,.41),(288.0,.43),
         (287.95,.45),(288.45,.485),(288.6,.50),(288.75,.52),(288.95,.52),(289.1,.53),(289.25,.54),(289.45,.55),
         (289.6,.56),(289.85,.565),(290.05,.555),(290.2,.545),(290.35,.535),(290.6,.52),(290.8,.52),(291.2,.54),
         (291.45,.515),(291.65,.505),(289.2,.49),(289.4,.50),(289.6,.51),(289.75,.52),(289.95,.51),(290.1,.50),
         (290.3,.49),(290.05,.465),(289.9,.47),(289.7,.465),(289.35,.46),(289.55,.47)]

core_c = [
    (0.285, [288.4, 288.55, 288.7, 288.85, 289.0, 289.15, 289.3, 289.45, 289.6, 289.75, 289.9]),
    (0.290, [288.22, 288.37, 288.52, 288.67, 288.82, 288.97, 289.12, 289.27, 289.42, 289.57, 289.72, 289.87,
             290.02, 290.12]),
    (0.295, [288.1, 288.25, 288.4, 288.55, 288.7, 288.85, 289.0, 289.15, 289.3, 289.45, 289.6, 289.75, 289.9,
             290.05, 290.2]),
    (0.300, [287.97, 288.12, 288.27, 288.42, 288.57, 288.72, 288.87, 289.02, 289.17, 289.32, 289.47, 289.62,
             289.77, 289.92, 290.07, 290.22]),
    (0.305, [287.9, 288.05, 288.2, 288.35, 288.5, 288.65, 288.8, 288.95, 289.1, 289.25, 289.4, 289.55, 289.7,
             289.85, 290.0, 290.15, 290.35]),
    (0.310, [287.87, 288.02, 288.17, 288.32, 288.47, 288.62, 288.77, 288.92, 289.07, 289.22, 289.37, 289.52,
             289.67, 289.82, 289.97, 290.12, 290.27, 290.42]),
    (0.315, [287.8, 287.95, 288.1, 288.25, 288.4, 288.55, 288.7, 288.85, 289.0, 289.15, 289.3, 289.45, 289.6,
             289.75, 289.9, 290.05, 290.2, 290.35, 290.5]),
    (0.320, [287.82, 287.97, 288.12, 288.27, 288.42, 288.57, 288.72, 288.87, 289.02, 289.17, 289.32, 289.47,
             289.62, 289.77, 289.92, 290.07, 290.22, 290.37, 290.52]),
    (0.325, [287.75, 287.9, 288.05, 288.2, 288.35, 288.5, 288.65, 288.8, 288.95, 289.1, 289.25, 289.4, 289.55,
             289.7, 289.85, 290.0, 290.15, 290.3, 290.45, 290.6]),
    (0.330, [287.82, 287.97, 288.12, 288.27, 288.42, 288.57, 288.72, 288.87, 289.02, 289.17, 289.32, 289.47,
             289.62, 289.77, 289.92, 290.07, 290.22, 290.37, 290.52, 290.65]),
    (0.335, [287.8, 287.95, 288.1, 288.25, 288.4, 288.55, 288.7, 288.85, 289.0, 289.15, 289.3, 289.45, 289.6,
             289.75, 289.9, 290.05, 290.2, 290.35, 290.5, 290.7]),
    (0.340, [287.87, 288.02, 288.17, 288.32, 288.47, 288.62, 288.77, 288.92, 289.07, 289.22, 289.37, 289.52,
             289.67, 289.82, 289.97, 290.12, 290.27, 290.42, 290.57, 290.75]),
    (0.345, [287.9, 288.05, 288.2, 288.35, 288.5, 288.65, 288.8, 288.95, 289.1, 289.25, 289.4, 289.55, 289.7,
             289.85, 290.0, 290.15, 290.3, 290.45, 290.6, 290.8]),
    (0.350, [287.97, 288.12, 288.27, 288.42, 288.57, 288.72, 288.87, 289.02, 289.17, 289.32, 289.47, 289.62,
             289.77, 289.92, 290.07, 290.22, 290.37, 290.52, 290.67, 290.85]),
    (0.355, [288.0, 288.15, 288.3, 288.45, 288.6, 288.75, 288.9, 289.05, 289.2, 289.35, 289.5, 289.65, 289.8,
             289.95, 290.1, 290.25, 290.4, 290.55, 290.7, 290.9]),
    (0.360, [288.02, 288.17, 288.32, 288.47, 288.62, 288.77, 288.92, 289.07, 289.22, 289.37, 289.52, 289.67,
             289.82, 289.97, 290.12, 290.27, 290.42, 290.57, 290.72, 290.95]),
    (0.365, [288.05, 288.2, 288.35, 288.5, 288.65, 288.8, 288.95, 289.1, 289.25, 289.4, 289.55, 289.7, 289.85,
             290.0, 290.15, 290.3, 290.45, 290.6, 290.75, 291.0]),
    (0.370, [288.07, 288.22, 288.37, 288.52, 288.67, 288.82, 288.97, 289.12, 289.27, 289.42, 289.57, 289.72,
             289.87, 290.02, 290.17, 290.32, 290.47, 290.62, 290.77, 290.92, 291.05]),
    (0.375, [288.1, 288.25, 288.4, 288.55, 288.7, 288.85, 289.0, 289.15, 289.3, 289.45, 289.6, 289.75, 289.9,
             290.05, 290.2, 290.35, 290.5, 290.65, 290.8, 290.95, 291.1]),
    (0.380, [288.12, 288.27, 288.42, 288.57, 288.72, 288.87, 289.02, 289.17, 289.32, 289.47, 289.62, 289.77,
             289.92, 290.07, 290.22, 290.37, 290.52, 290.67, 290.82, 290.97]),
    (0.385, [288.15, 288.3, 288.45, 288.6, 288.75, 288.9, 289.05, 289.2, 289.35, 289.5, 289.65, 289.8, 289.95,
             290.1, 290.25, 290.4, 290.55, 290.7, 290.85, 291.0]),
    (0.390, [288.17, 288.32, 288.47, 288.62, 288.77, 288.92, 289.07, 289.22, 289.37, 289.52, 289.67, 289.82,
             289.97, 290.12, 290.27, 290.42, 290.57, 290.72, 290.87]),
    (0.395, [288.2, 288.35, 288.5, 288.65, 288.8, 288.95, 289.1, 289.25, 289.4, 289.55, 289.7, 289.85, 290.0,
             290.15, 290.3, 290.45, 290.6, 290.75, 290.9]),
    (0.400, [288.27, 288.42, 288.57, 288.72, 288.87, 289.02, 289.17, 289.32, 289.47, 289.62, 289.77, 289.92,
             290.07, 290.22, 290.37, 290.52, 290.67, 290.85]),
    (0.405, [288.3, 288.45, 288.6, 288.75, 288.9, 289.05, 289.2, 289.35, 289.5, 289.65, 289.8, 289.95, 290.1,
             290.25, 290.4, 290.55, 290.8]),
    (0.410, [288.37, 288.52, 288.67, 288.82, 288.97, 289.12, 289.27, 289.42, 289.57, 289.72, 289.87, 290.02,
             290.17, 290.32, 290.47, 290.65]),
    (0.415, [288.4, 288.55, 288.7, 288.85, 289.0, 289.15, 289.3, 289.45, 289.6, 289.75, 289.9, 290.05, 290.2,
             290.35, 290.6]),
    (0.420, [288.47, 288.62, 288.77, 288.92, 289.07, 289.22, 289.37, 289.52, 289.67, 289.82, 289.97, 290.12,
             290.27, 290.45]),
    (0.425, [288.5, 288.65, 288.8, 288.95, 289.1, 289.25, 289.4, 289.55, 289.7, 289.85, 290.0, 290.15, 290.4]),
    (0.430, [288.57, 288.72, 288.87, 289.02, 289.17, 289.32, 289.47, 289.62, 289.77, 289.92, 290.07, 290.25]),
    (0.435, [288.6, 288.75, 288.9, 289.05, 289.2, 289.35, 289.5, 289.65, 289.8, 289.95, 290.2]),
    (0.440, [288.67, 288.82, 288.97, 289.12, 289.27, 289.42, 289.57, 289.72, 289.87, 290.05]),
    (0.445, [288.7, 288.85, 289.0, 289.15, 289.3, 289.45, 289.6, 289.75, 290.0]),
    (0.450, [288.82, 288.97, 289.12, 289.27, 289.42, 289.57, 289.75]),
    (0.455, [288.9, 289.05, 289.2, 289.35, 289.5, 289.7]),
    (0.370, [291.2, 291.4, 291.6, 291.8, 292.0, 292.2, 292.4, 292.6, 292.8, 293.0]),
    (0.375, [291.1, 291.3, 291.5, 291.7, 291.9, 292.1, 292.3, 292.5, 292.7, 292.9, 293.05]),
    (0.380, [291.3, 291.5, 291.7, 291.9, 292.1, 292.3, 292.5, 292.7, 292.9, 293.1]),
    (0.385, [291.15, 291.35, 291.55, 291.75, 291.95, 292.15, 292.35, 292.55, 292.75, 292.95]),
    (0.390, [291.2, 291.4, 291.6, 291.8, 292.0, 292.2, 292.4, 292.6, 292.85, 293.0]),
    (0.395, [291.05, 291.25, 291.45, 291.65, 291.85, 292.05, 292.25, 292.45, 292.65, 292.9]),
    (0.400, [291.1, 291.3, 291.5, 291.7, 291.9, 292.1, 292.3, 292.5, 292.7, 292.85]),
    (0.405, [291.0, 291.2, 291.4, 291.6, 291.8, 292.0, 292.2, 292.4, 292.6, 292.75]),
    (0.410, [291.0, 291.2, 291.4, 291.6, 291.8, 292.0, 292.2, 292.4, 292.6]),
    (0.415, [290.95, 291.15, 291.35, 291.55, 291.75, 291.95, 292.15, 292.35, 292.55]),
    (0.420, [290.9, 291.1, 291.3, 291.5, 291.7, 291.9, 292.1, 292.3, 292.5]),
    (0.425, [290.8, 291.0, 291.2, 291.4, 291.6, 291.8, 292.0, 292.2, 292.4]),
    (0.430, [290.85, 291.05, 291.25, 291.45, 291.65, 291.85, 292.05, 292.25]),
    (0.435, [290.75, 290.95, 291.15, 291.35, 291.55, 291.75, 291.95, 292.15]),
    (0.440, [290.7, 290.9, 291.1, 291.3, 291.5, 291.7, 291.9, 292.1]),
    (0.445, [290.65, 290.85, 291.05, 291.25, 291.45, 291.65, 291.85, 292.05]),
    (0.450, [290.6, 290.8, 291.0, 291.2, 291.4, 291.6, 291.8, 292.0]),
    (0.455, [290.55, 290.75, 290.95, 291.15, 291.35, 291.55, 291.75]),
    (0.460, [290.5, 290.7, 290.9, 291.1, 291.3, 291.5, 291.75]),
    (0.465, [290.45, 290.65, 290.85, 291.05, 291.25, 291.45, 291.6]),
    (0.470, [290.4, 290.6, 290.8, 291.0, 291.2, 291.45]),
    (0.480, [290.3, 290.5, 290.7, 290.9, 291.15]),
    (0.490, [290.25, 290.45, 290.65, 290.9]),
    (0.500, [290.2, 290.4, 290.6]),
]

bands = ['8.52', '11.0', '12.0']
letters = ['(a)', '(b)', '(c)']
xticks = [278, 280, 282, 284, 286, 288, 290, 292, 294]
yticks = [0, 0.1, 0.2, 0.3, 0.4, 0.5, 0.6, 0.7, 0.8, 0.9, 1]
ytick_labels = ['0', '0.1', '0.2', '0.3', '0.4', '0.5', '0.6', '0.7', '0.8', '0.9', '1']


def collect(pair_lists, rows):
    xs, ys = [], []
    for pl in pair_lists:
        xs += [p[0] for p in pl]
        ys += [p[1] for p in pl]
    for yv, row in rows:
        xs += row
        ys += [yv] * len(row)
    return xs, ys


series = [collect([tail_a, upper_a, right_a], core_a),
          collect([tail_b, upper_b, right_b], core_b),
          collect([tail_c, upper_c, mid_c], core_c)]

W, H = 654, 1405
# axes boxes in pixels: (top, bottom)
boxes = [(62, 398), (538, 888), (1026, 1362)]
left, right = 181, 607
blue = '#1030ff'
sans = 'Liberation Sans'

fig = plt.figure(figsize=(W / 100, H / 100), dpi=100)

for i in range(3):
    top, bot = boxes[i]
    ax = fig.add_axes([left / W, 1 - bot / H, (right - left) / W, (bot - top) / H])
    xs, ys = series[i]
    ax.scatter(xs, ys, s=18, facecolors='none', edgecolors=blue, linewidths=0.8)
    ax.set_xlim(278, 295)
    ax.set_ylim(0, 1)
    ax.set_xticks(xticks)
    ax.set_yticks(yticks)
    ax.set_yticklabels(ytick_labels)
    for s in ['top', 'right']:
        ax.spines[s].set_visible(False)
    for s in ['left', 'bottom']:
        ax.spines[s].set_color('#404040')
        ax.spines[s].set_linewidth(0.9)
    ax.tick_params(direction='in', length=4, width=0.8, color='#404040', labelsize=10.5,
                   labelcolor='#333333', pad=2)
    for lab in ax.get_xticklabels() + ax.get_yticklabels():
        lab.set_family(sans)

    fig.text(12 / W, 1 - (top - 42) / H, letters[i], family='Liberation Serif', fontsize=20,
             ha='left', va='center')
    fig.text((left + right) / 2 / W, 1 - (top - 18) / H,
             'Brightness Temperature Percent Relative Difference (' + bands[i] + ' \u03bcm)',
             family=sans, fontsize=13.5, ha='center', va='center')
    fig.text(394 / W, 1 - (bot + 27) / H, 'True ' + bands[i] + '-\u03bcm Brightness Temperature (K)',
             family=sans, fontsize=13.5, ha='center', va='center')
    fig.text(143 / W, 1 - (top + bot) / 2 / H, 'Percent Relative Difference (%)',
             family=sans, fontsize=13.5, rotation=90, ha='center', va='center')

fig.savefig('out.png', dpi=100)
